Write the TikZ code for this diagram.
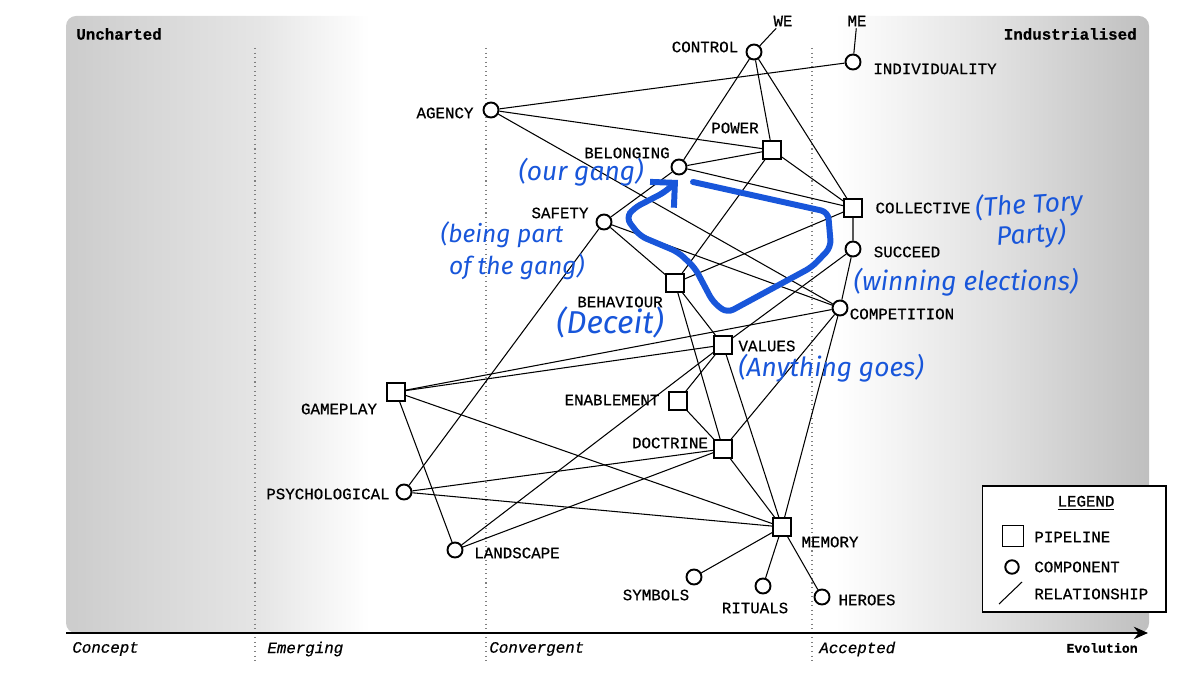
\documentclass[tikz,border=0pt]{standalone}
\usepackage{fontspec}
\usepackage{tikz}
\usetikzlibrary{arrows.meta}
\setmonofont{Liberation Mono}[FakeBold=0.6]
\newfontfamily\handfont{Fira Sans}
\definecolor{ink}{RGB}{24,86,218}
\pgfdeclarehorizontalshading{evolution}{100bp}{color(0bp)=(black!20); color(25bp)=(black!20); color(34bp)=(black!10); color(39bp)=(white); color(60.5bp)=(white); color(68bp)=(black!12); color(75bp)=(black!25); color(100bp)=(black!25)}

\begin{document}
\begin{tikzpicture}[x=0.02cm,y=-0.02cm,
	comp/.style={circle,draw,fill=white,line width=1.1pt,minimum size=0.3cm,inner sep=0pt},
	pipe/.style={rectangle,draw,fill=white,line width=1.1pt,minimum size=0.35cm,inner sep=0pt},
	lbl/.style={font=\ttfamily\fontsize{9}{10}\selectfont,inner sep=0pt},
	stage/.style={font=\ttfamily\itshape\fontsize{9}{10}\selectfont,inner sep=0pt,anchor=west},
	rel/.style={line width=0.6pt},
	hand/.style={text=ink,font=\handfont\itshape\fontsize{15}{17}\selectfont,align=center,inner sep=0pt}]
	\useasboundingbox (0,0) rectangle (1200,675);
	\shade[shading=evolution,rounded corners=0.2cm] (66,16) rectangle (1149,633);
	\draw[gray,dotted,line width=0.6pt] (255,48)--(255,662) (486,48)--(486,662) (812,48)--(812,662);
	\coordinate (axis-a) at (66,633);
	\coordinate (axis-b) at (1148,633);
	\draw[line width=1.7pt,-{Stealth[length=8pt,width=7pt]}] (axis-a)--(axis-b);
	\node[stage] (concept) at (72,649) {Concept};
	\node[stage] (emerging) at (267,649) {Emerging};
	\node[stage] (convergent) at (489,649) {Convergent};
	\node[stage] (accepted) at (819,649) {Accepted};
	\node[font=\ttfamily\bfseries\fontsize{7.5}{9}\selectfont,inner sep=0pt,anchor=east] (evolution) at (1138,648) {Evolution};
	\node[lbl,font=\ttfamily\bfseries\fontsize{9}{10}\selectfont,anchor=west] (uncharted) at (76,34) {Uncharted};
	\node[lbl,font=\ttfamily\bfseries\fontsize{9}{10}\selectfont,anchor=east] (industrialised) at (1137,34) {Industrialised};

	\node[comp,label={[lbl,shift={(-49,-5)}]center:CONTROL}] (control) at (754,52) {};
	\node[lbl,inner sep=1pt] (we) at (783,21) {WE};
	\node[comp,label={[lbl,shift={(82,7)}]center:INDIVIDUALITY}] (individuality) at (853,62) {};
	\node[lbl,inner sep=1pt] (me) at (857,21) {ME};
	\node[comp,label={[lbl,shift={(-46,3)}]center:AGENCY}] (agency) at (491,110) {};
	\node[pipe,label={[lbl,shift={(-37,-22)}]center:POWER}] (power) at (772,150) {};
	\node[comp,label={[lbl,shift={(-52,-14)}]center:BELONGING}] (belonging) at (679,167) {};
	\node[pipe,label={[lbl,shift={(70,0)}]center:COLLECTIVE}] (collective) at (853,208) {};
	\node[comp,label={[lbl,shift={(54,3)}]center:SUCCEED}] (succeed) at (853,249) {};
	\node[comp,label={[lbl,shift={(-44,-9)}]center:SAFETY}] (safety) at (604,222) {};
	\node[pipe,label={[lbl,shift={(-55,19)}]center:BEHAVIOUR}] (behaviour) at (675,283) {};
	\node[comp,label={[lbl,shift={(62,6)}]center:COMPETITION}] (competition) at (840,308) {};
	\node[pipe,label={[lbl,shift={(44,1)}]center:VALUES}] (values) at (723,345) {};
	\node[pipe,label={[lbl,shift={(-66,-1)}]center:ENABLEMENT}] (enablement) at (678,401) {};
	\node[pipe,label={[lbl,shift={(-57,17)}]center:GAMEPLAY}] (gameplay) at (396,392) {};
	\node[pipe,label={[lbl,shift={(-53,-6)}]center:DOCTRINE}] (doctrine) at (723,449) {};
	\node[comp,label={[lbl,shift={(-76,2)}]center:PSYCHOLOGICAL}] (psychological) at (404,492) {};
	\node[comp,label={[lbl,shift={(62,3)}]center:LANDSCAPE}] (landscape) at (455,550) {};
	\node[pipe,label={[lbl,shift={(48,15)}]center:MEMORY}] (memory) at (782,527) {};
	\node[comp,label={[lbl,shift={(-38,18)}]center:SYMBOLS}] (symbols) at (694,577) {};
	\node[comp,label={[lbl,shift={(-8,22)}]center:RITUALS}] (rituals) at (763,586) {};
	\node[comp,label={[lbl,shift={(45,3)}]center:HEROES}] (heroes) at (822,597) {};

	\draw[rel] (control)--(we) (individuality)--(me);
	\draw[rel] (agency)--(individuality) (agency)--(power) (agency)--(competition);
	\draw[rel] (control)--(belonging) (control)--(power) (control)--(collective);
	\draw[rel] (belonging)--(power) (belonging)--(collective) (belonging)--(safety);
	\draw[rel] (power)--(collective) (power)--(behaviour);
	\draw[rel] (collective)--(succeed) (collective)--(behaviour);
	\draw[rel] (succeed)--(competition) (succeed)--(values);
	\draw[rel] (safety)--(behaviour) (safety)--(competition) (safety)--(psychological);
	\draw[rel] (behaviour)--(values) (behaviour)--(doctrine);
	\draw[rel] (competition)--(gameplay) (competition)--(doctrine) (competition)--(memory);
	\draw[rel] (values)--(gameplay) (values)--(enablement) (values)--(landscape) (values)--(memory);
	\draw[rel] (enablement)--(doctrine);
	\draw[rel] (doctrine)--(psychological) (doctrine)--(landscape) (doctrine)--(memory);
	\draw[rel] (gameplay)--(memory) (gameplay)--(landscape) (psychological)--(memory);
	\draw[rel] (memory)--(symbols) (memory)--(rituals) (memory)--(heroes);

	\node[draw,fill=white,line width=0.6pt,minimum width=3.68cm,minimum height=2.52cm] (legend) at (1074,549) {};
	\node[lbl] (legend-title) at (1086,503) {\underline{LEGEND}};
	\node[pipe,minimum size=0.42cm] (legend-pipe) at (1013,536) {};
	\node[lbl,anchor=west] (legend-pipe-l) at (1034,537) {PIPELINE};
	\node[comp,minimum size=0.27cm] (legend-comp) at (1012,567) {};
	\node[lbl,anchor=west] (legend-comp-l) at (1034,567) {COMPONENT};
	\coordinate (legend-a) at (999,604);
	\coordinate (legend-b) at (1022,582);
	\draw[rel] (legend-a)--(legend-b);
	\node[lbl,anchor=west] (legend-rel-l) at (1034,594) {RELATIONSHIP};

	\node[hand] (ourgang) at (581,172) {(our gang)};
	\node[hand,font=\handfont\itshape\fontsize{14}{18}\selectfont] (gangpart) at (502,251) {(being part\\\hspace*{1.2em}of the gang)};
	\node[hand,font=\handfont\itshape\fontsize{18}{18}\selectfont] (deceit) at (610,322) {(Deceit)};
	\node[hand,rotate=4] (tory) at (1030,220) {(The Tory\\Party)};
	\node[hand] (elections) at (966,282) {(winning elections)};
	\node[hand] (anything) at (831,368) {(Anything goes)};
	\draw[ink,line width=3.4pt,line cap=round,line join=round,rounded corners=4pt,-{Straight Barb[length=10pt,width=20pt]}] (693,182) -- (828,212) -- (831,247) -- (812,267) -- (727,313) -- (713,302) -- (695,268) -- (678,252) -- (640,236) -- (626,218) -- (634,208) -- (665,192) -- (678,180);
\end{tikzpicture}
\end{document}
